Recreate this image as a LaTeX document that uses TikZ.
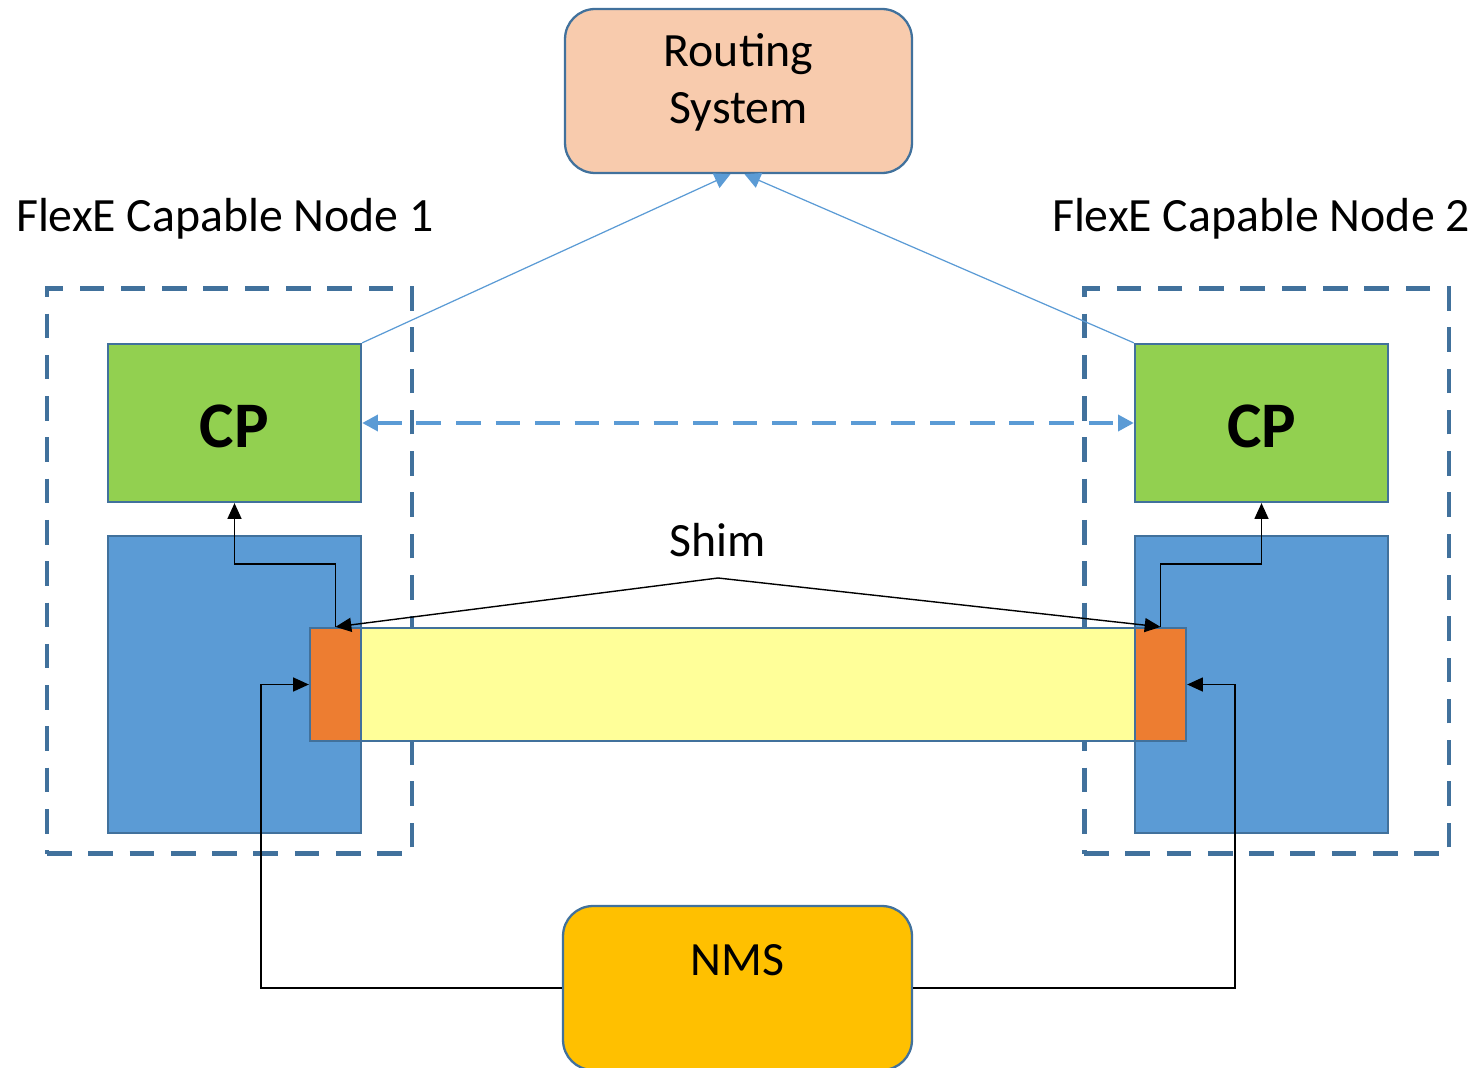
\documentclass[tikz,border=0pt]{standalone}
\usepackage{fontspec}
\setmainfont{Carlito}
\usetikzlibrary{arrows.meta}
\definecolor{edgeblue}{HTML}{41719C}
\definecolor{cpgreen}{HTML}{92D050}
\definecolor{phyblue}{HTML}{5B9BD5}
\definecolor{linkyellow}{HTML}{FFFF99}
\definecolor{shimorange}{HTML}{ED7D31}
\definecolor{routepeach}{HTML}{F8CBAD}
\definecolor{nmsgold}{HTML}{FFC000}
\begin{document}
\begin{tikzpicture}[x=0.02cm, y=-0.02cm,
	every node/.style={font=\fontsize{27.2}{32.3}\selectfont},
	box/.style={draw=edgeblue, line width=1.3pt},
	nodebox/.style={draw=edgeblue, line width=2.8pt, dash pattern=on 14pt off 9.5pt, minimum width=7.3cm, minimum height=11.32cm},
	cpbox/.style={box, fill=cpgreen, minimum width=5.06cm, minimum height=3.16cm, text height=28pt, text depth=0pt, font=\fontsize{37}{44}\selectfont\bfseries},
	phybox/.style={box, fill=phyblue, minimum width=5.06cm, minimum height=5.94cm},
	shimbox/.style={box, fill=shimorange, minimum width=1.02cm, minimum height=2.26cm},
	mgmtbox/.style={box, rounded corners=0.6cm, align=center},
	tip/.style={-{Triangle[length=9pt, width=8pt]}, line width=0.8pt},
	bluetip/.style={-{Triangle[length=9pt, width=9pt]}, draw=phyblue, line width=0.7pt}]
	\clip (0,0) rectangle (1481,1068);
	\node[nodebox] (nodeA) at (229.5,571) {};
	\node[nodebox] (nodeB) at (1266.5,571) {};
	\node (lblA) at (225,219) {FlexE Capable Node 1};
	\node (lblB) at (1261,219) {FlexE Capable Node 2};
	\node[cpbox] (cpA) at (234.5,423) {CP};
	\node[cpbox] (cpB) at (1261.5,423) {CP};
	\node[phybox] (phyA) at (234.5,684.5) {};
	\node[phybox] (phyB) at (1261.5,684.5) {};
	\node[box, fill=linkyellow, minimum width=15.48cm, minimum height=2.26cm] (link) at (748,684.5) {};
	\node[shimbox] (shimA) at (335.5,684.5) {};
	\node[shimbox] (shimB) at (1160.5,684.5) {};
	\node (shim) at (718,540) {Shim};
	\coordinate (shimtop) at (718,578);
	\node[mgmtbox, fill=routepeach, minimum width=6.94cm, minimum height=3.28cm, text depth=0.5cm] (route) at (738.5,91) {Routing\\System};
	\node[mgmtbox, fill=nmsgold, minimum width=6.98cm, minimum height=3.28cm] (nms) at (737.5,988) {NMS\\~};
	\draw[tip] (shimtop) -- (shimA.north);
	\draw[tip] (shimtop) -- (shimB.north);
	\draw[tip] (shimA.north) -- ++(0,-63) -| (cpA.south);
	\draw[tip] (shimB.north) -- ++(0,-63) -| (cpB.south);
	\draw[tip] (nms.west) -| ([xshift=-0.96cm]shimA.west) -- (shimA.west);
	\draw[tip] (nms.east) -| ([xshift=0.96cm]shimB.east) -- (shimB.east);
	\draw[bluetip] (cpA.north east) -- ([xshift=-0.16cm]route.south);
	\draw[bluetip] (cpB.north west) -- ([xshift=0.12cm]route.south);
	\draw[{Triangle[length=9pt, width=9pt]}-{Triangle[length=9pt, width=9pt]}, draw=phyblue, line width=2.2pt, dash pattern=on 14pt off 8.5pt] (cpA.east) -- (cpB.west);
\end{tikzpicture}
\end{document}
